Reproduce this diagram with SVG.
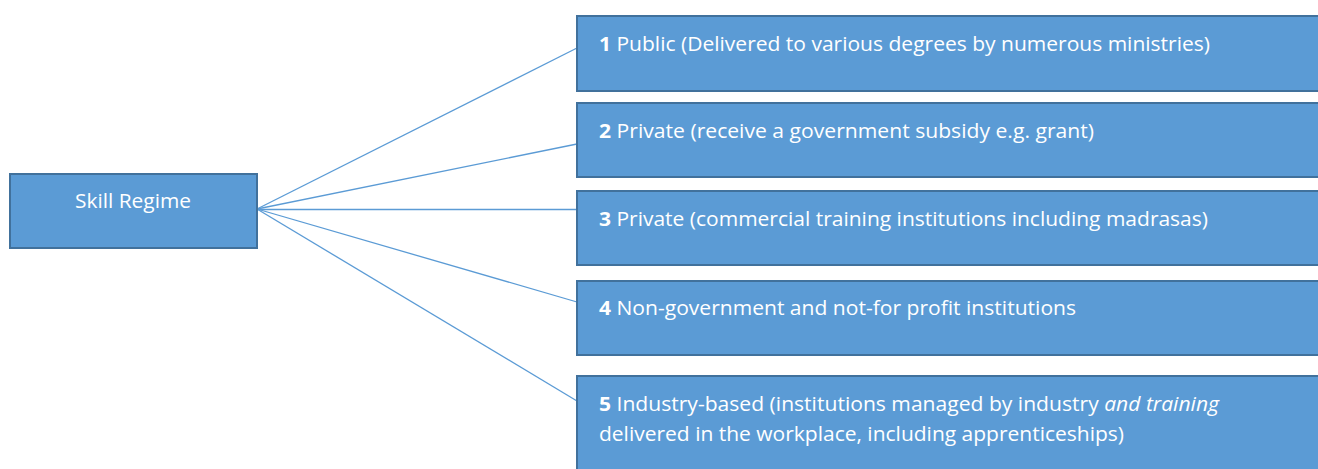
<svg xmlns="http://www.w3.org/2000/svg" width="1318" height="469" viewBox="0 0 1318 469">
<style>
.box{fill:#5B9BD5;stroke:#41719C;stroke-width:2}
.lbl{font-family:"Open Sans","Liberation Sans",sans-serif;font-size:20px;fill:#FFFFFF}
.conn{stroke:#5B9BD5;stroke-width:1.3;fill:none}
</style>
<rect width="1318" height="469" fill="#FFFFFF"/>
<g id="connectors">
<line class="conn" x1="257" y1="209" x2="577" y2="48"/>
<line class="conn" x1="257" y1="209" x2="577" y2="144"/>
<line class="conn" x1="257" y1="209.5" x2="577" y2="209.5"/>
<line class="conn" x1="257" y1="209" x2="577" y2="302"/>
<line class="conn" x1="257" y1="209" x2="577" y2="401"/>
</g>
<g id="skill-regime">
<rect class="box" x="10" y="174" width="247" height="74"/>
<text class="lbl" x="75" y="208" textLength="116" lengthAdjust="spacingAndGlyphs">Skill Regime</text>
</g>
<g id="node1">
<rect class="box" x="577" y="16" width="745" height="75"/>
<text class="lbl" x="599" y="51" textLength="611" lengthAdjust="spacingAndGlyphs"><tspan font-weight="bold">1</tspan> Public (Delivered to various degrees by numerous ministries)</text>
</g>
<g id="node2">
<rect class="box" x="577" y="103" width="745" height="74"/>
<text class="lbl" x="599" y="138" textLength="495" lengthAdjust="spacingAndGlyphs"><tspan font-weight="bold">2</tspan> Private (receive a government subsidy e.g. grant)</text>
</g>
<g id="node3">
<rect class="box" x="577" y="191" width="745" height="74"/>
<text class="lbl" x="599" y="226" textLength="609" lengthAdjust="spacingAndGlyphs"><tspan font-weight="bold">3</tspan> Private (commercial training institutions including madrasas)</text>
</g>
<g id="node4">
<rect class="box" x="577" y="281" width="745" height="74"/>
<text class="lbl" x="599" y="315" textLength="477" lengthAdjust="spacingAndGlyphs"><tspan font-weight="bold">4</tspan> Non-government and not-for profit institutions</text>
</g>
<g id="node5">
<rect class="box" x="577" y="376" width="745" height="100"/>
<text class="lbl" x="599" y="411" textLength="620" lengthAdjust="spacingAndGlyphs"><tspan font-weight="bold">5</tspan> Industry-based (institutions managed by industry <tspan font-style="italic">and training</tspan></text>
<text class="lbl" x="599" y="441" textLength="525" lengthAdjust="spacingAndGlyphs">delivered in the workplace, including apprenticeships)</text>
</g>
</svg>
